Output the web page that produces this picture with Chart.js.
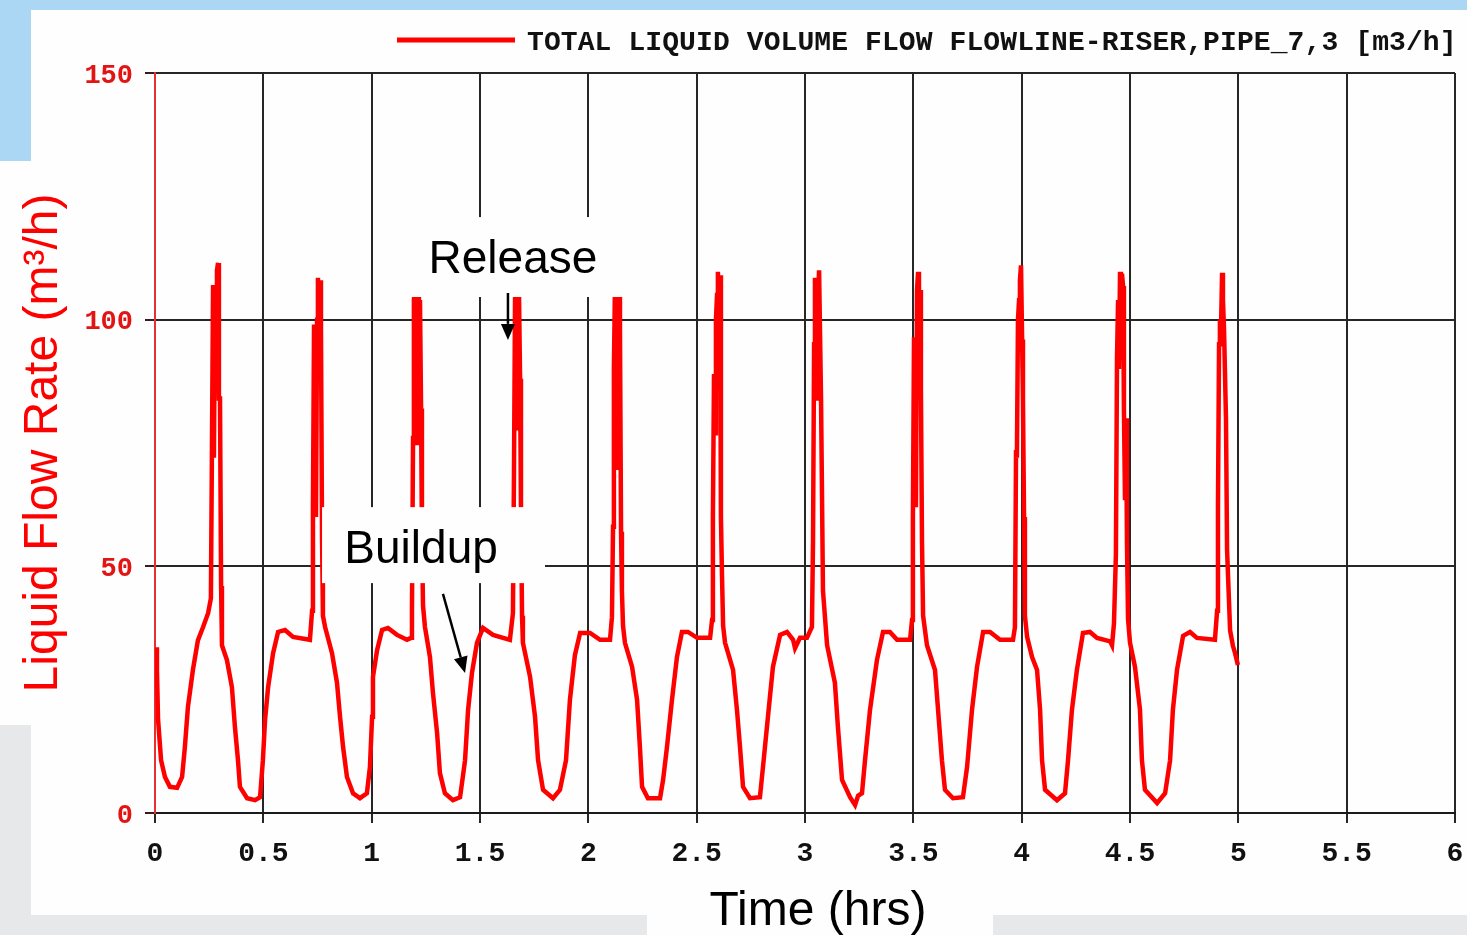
<!DOCTYPE html>
<html>
<head>
<meta charset="utf-8">
<title>Liquid Flow Rate</title>
<script src="https://cdn.jsdelivr.net/npm/chart.js@4.4.1/dist/chart.umd.min.js"></script>
<style>
    html, body { margin: 0; padding: 0; background: #acd7f4; overflow: hidden; }
    canvas { display: block; }
</style>
</head>
<body>
<canvas id="caudal" width="1467" height="935"></canvas>
<script>

// Tiempo (h) y caudal de liquido (m3/h), un renglon por tramo de cada ciclo de slug:
// pico de descarga, vaciado del riser, recuperacion y meseta
const timeHrs = [
    0.005, 0.009, 0.014, 0.028, 0.046, 0.069, 0.102, 0.125, 0.138, 0.152, 0.175, 0.198, 0.222, 0.245, 0.258,
    0.263, 0.268, 0.272, 0.277, 0.282, 0.286, 0.291, 0.295, 0.300, 0.305,
    0.309, 0.332, 0.355, 0.369, 0.383, 0.392, 0.425, 0.462, 0.485,
    0.498, 0.508, 0.522, 0.545, 0.568, 0.600, 0.637, 0.715, 0.725,

    0.729, 0.734, 0.738, 0.743, 0.748, 0.752, 0.757, 0.762, 0.766, 0.771, 0.775,
    0.785, 0.817, 0.840, 0.854, 0.868, 0.886, 0.914, 0.946, 0.978,
    0.992, 1.002, 1.006, 1.025, 1.048, 1.075, 1.117, 1.163, 1.182, 1.186,

    1.191, 1.195, 1.200, 1.205, 1.209, 1.214, 1.218, 1.223, 1.228, 1.232, 1.237,
    1.246, 1.269, 1.283, 1.302, 1.315, 1.338, 1.375, 1.408,
    1.431, 1.445, 1.463, 1.486, 1.514, 1.560, 1.638, 1.652,

    1.657, 1.662, 1.666, 1.671, 1.675, 1.680, 1.685, 1.689, 1.694,
    1.698, 1.731, 1.754, 1.768, 1.791, 1.837, 1.869,
    1.897, 1.915, 1.938, 1.962, 2.008, 2.054, 2.100, 2.109,

    2.114, 2.118, 2.123, 2.128, 2.132, 2.137, 2.142, 2.146, 2.151, 2.155, 2.160,
    2.169, 2.202, 2.225, 2.238, 2.248, 2.275, 2.331,
    2.345, 2.363, 2.386, 2.409, 2.432, 2.460, 2.502, 2.562, 2.571,

    2.575, 2.580, 2.585, 2.589, 2.594, 2.598, 2.603, 2.608, 2.612, 2.617, 2.622,
    2.631, 2.668, 2.686, 2.700, 2.714, 2.746, 2.792,
    2.806, 2.829, 2.852, 2.885, 2.917, 2.945, 2.954, 2.977, 3.009, 3.032,

    3.037, 3.042, 3.046, 3.051, 3.055, 3.060, 3.065, 3.069, 3.074, 3.078, 3.083,
    3.102, 3.138, 3.152, 3.171, 3.208, 3.231, 3.245, 3.263,
    3.277, 3.300, 3.332, 3.360, 3.392, 3.425, 3.485, 3.494,

    3.498, 3.503, 3.508, 3.512, 3.517, 3.522, 3.526, 3.531, 3.535, 3.540, 3.545,
    3.563, 3.600, 3.614, 3.632, 3.646, 3.683, 3.729,
    3.748, 3.771, 3.794, 3.822, 3.854, 3.900, 3.960, 3.969,

    3.974, 3.978, 3.983, 3.988, 3.992, 3.997, 4.002, 4.006, 4.011, 4.015,
    4.025, 4.048, 4.071, 4.085, 4.094, 4.108, 4.163, 4.200,
    4.214, 4.232, 4.255, 4.283, 4.315, 4.348, 4.408, 4.417, 4.426,

    4.435, 4.440, 4.445, 4.449, 4.454, 4.458, 4.463, 4.468, 4.472, 4.477, 4.482, 4.486, 4.491,
    4.500, 4.523, 4.546, 4.555, 4.569, 4.625, 4.662,
    4.685, 4.698, 4.717, 4.745, 4.777, 4.809, 4.892, 4.902,

    4.906, 4.911, 4.915, 4.920, 4.925, 4.929, 4.934, 4.938, 4.943, 4.948,
    4.962, 4.975, 4.985, 4.998,
];

const liquidFlow = [
    33.6, 29, 19, 10.7, 7.3, 5.3, 5.1, 7.3, 13.4, 21.5, 29, 35, 37.7, 40.5, 43.5,
    75, 107, 72, 106, 100, 110, 111.5, 84, 84, 46,
    34, 31, 25.5, 17.4, 10.7, 5.3, 3, 2.6, 3.2,
    10.7, 18.9, 25.5, 32.4, 36.7, 37.1, 35.7, 35.1, 41,

    62, 99, 99, 60, 100, 108.5, 101, 108, 98, 56, 40,
    37.7, 32.4, 26.4, 19.5, 13.4, 7.3, 4, 3, 4,
    9.3, 19.5, 27.6, 33, 37.1, 37.5, 36.1, 35.1, 35.5, 41,

    76, 104, 107, 75, 106, 107.5, 100, 104, 82, 56, 42,
    37.7, 31.6, 24.3, 16.2, 8.1, 4, 2.6, 3.2,
    10.7, 20.9, 28.4, 34.5, 37.5, 36.1, 35.1, 40.5,

    70, 106, 108, 78, 107, 105, 88, 62, 40,
    34.5, 27.6, 19.5, 10.7, 4.7, 3, 4.7,
    10.7, 22.9, 32, 36.5, 36.5, 35.1, 35.1, 39.7,

    58, 90, 107, 70, 106, 104, 107, 98, 57, 45, 38,
    34.5, 29.6, 22.9, 13.4, 5.3, 3, 3,
    6.7, 13.4, 22.9, 31.6, 36.7, 36.7, 35.5, 35.5, 39.1,

    60, 89, 77, 100, 105, 109.7, 96, 109, 60, 48, 38,
    34.5, 29, 20.9, 13.4, 5.3, 3, 3.2,
    9.3, 19.5, 29.6, 36.1, 36.7, 35.1, 33.4, 35.5, 35.5, 37.7,

    55, 95, 108.5, 84, 108, 104, 110, 110, 84, 84, 45,
    34, 26.4, 17.4, 6.7, 3.2, 1.6, 3.5, 4,
    10.7, 20.9, 31, 36.7, 36.7, 35.1, 35.1, 39.1,

    59.4, 96, 96, 62, 106, 109.7, 104, 106, 86, 55, 40,
    34, 29, 21, 10.7, 4.7, 3, 3.2,
    9.3, 21, 29.6, 36.7, 36.7, 35.1, 35.1, 37.7,

    73.6, 72, 100, 104, 108, 111, 96, 83.7, 60, 40,
    35.7, 31.6, 29, 20.9, 10.7, 4.7, 2.6, 4,
    10.7, 20.9, 29, 36.5, 36.7, 35.5, 34.8, 34, 38.4,

    52.5, 92, 104, 90, 109.7, 100, 109.3, 106.8, 81.7, 63.4, 80, 55, 39.3,
    34.5, 29.6, 21, 10.7, 4.7, 2, 4,
    10.7, 20.9, 29, 35.9, 36.7, 35.5, 35.1, 41,

    61.8, 95, 100, 98, 109.5, 104, 98, 98, 80, 53.3,
    37, 33.9, 32.4, 30,
];

const serieLabel = "TOTAL LIQUID VOLUME FLOW FLOWLINE-RISER,PIPE_7,3 [m3/h]";
const tituloY = "Liquid Flow Rate (m\u00B3/h)";
const tituloX = "Time (hrs)";

// Notas sobre el grafico (en unidades de los ejes)
const notas = [
    { texto: "Release", caja: [1.145, 2.192, 120.8, 104.6], base: [1.652, 109.5], flecha: [1.629, 105.4, 1.629, 95.9] },
    { texto: "Buildup", caja: [0.771, 1.800, 62.0, 46.6], base: [1.228, 50.7], flecha: [1.329, 44.4, 1.431, 28.4] },
];

const ROJO = "#ff0000";
const fuenteMono = "'Liberation Mono', 'DejaVu Sans Mono', monospace";
const fuenteSans = "'Liberation Sans', Arial, sans-serif";

// Fondo de la diapositiva: franjas celeste y gris, panel blanco
const fondoSlide = {
    id: "fondoSlide",
    beforeDraw(chart) {
        const ctx = chart.ctx;
        ctx.save();
        ctx.fillStyle = "#acd7f4";
        ctx.fillRect(0, 0, chart.width, chart.height);
        ctx.fillStyle = "#e6e8e9";
        ctx.fillRect(0, 725, chart.width, chart.height - 725);
        ctx.fillStyle = "#fefefe";
        ctx.fillRect(31, 10, chart.width - 31, 905);
        ctx.fillRect(0, 161, 76, 564);
        ctx.fillRect(647, 870, 346, 65);
        ctx.restore();
    },
};

function dibujarFlecha(ctx, x1, y1, x2, y2) {
    const ang = Math.atan2(y2 - y1, x2 - x1);
    const largo = 16, ancho = 7;
    const c = Math.cos(ang), s = Math.sin(ang);
    ctx.beginPath();
    ctx.moveTo(x1, y1);
    ctx.lineTo(x2 - largo * c, y2 - largo * s);
    ctx.lineWidth = 2.5;
    ctx.stroke();
    ctx.beginPath();
    ctx.moveTo(x2, y2);
    ctx.lineTo(x2 - largo * c + ancho * s, y2 - largo * s - ancho * c);
    ctx.lineTo(x2 - largo * c - ancho * s, y2 - largo * s + ancho * c);
    ctx.closePath();
    ctx.fill();
}

// Leyenda, titulos de ejes y notas con flecha
const textos = {
    id: "textos",
    afterDraw(chart) {
        const ctx = chart.ctx;
        const sx = chart.scales.x, sy = chart.scales.y;
        ctx.save();

        // leyenda
        ctx.strokeStyle = ROJO;
        ctx.lineWidth = 5;
        ctx.beginPath();
        ctx.moveTo(397, 40);
        ctx.lineTo(515, 40);
        ctx.stroke();
        ctx.fillStyle = "#111";
        ctx.font = "bold 28px " + fuenteMono;
        ctx.textAlign = "left";
        ctx.textBaseline = "alphabetic";
        ctx.letterSpacing = "0.1px";
        ctx.fillText(serieLabel, 527, 50);
        ctx.letterSpacing = "0px";

        // titulo eje y
        ctx.save();
        ctx.translate(57, 443);
        ctx.rotate(-Math.PI / 2);
        ctx.fillStyle = ROJO;
        ctx.font = "48px " + fuenteSans;
        ctx.textAlign = "center";
        ctx.fillText(tituloY, 0, 0);
        ctx.restore();

        // titulo eje x
        ctx.fillStyle = "#000";
        ctx.font = "48px " + fuenteSans;
        ctx.textAlign = "center";
        ctx.fillText(tituloX, 818, 925);

        // notas
        notas.forEach((n) => {
            const [t0, t1, v0, v1] = n.caja;
            const x0 = sx.getPixelForValue(t0), x1 = sx.getPixelForValue(t1);
            const y0 = sy.getPixelForValue(v0), y1 = sy.getPixelForValue(v1);
            ctx.fillStyle = "#fefefe";
            ctx.fillRect(x0, y0, x1 - x0, y1 - y0);
            ctx.fillStyle = "#000";
            ctx.font = "46px " + fuenteSans;
            ctx.textAlign = "center";
            ctx.fillText(n.texto, sx.getPixelForValue(n.base[0]), sy.getPixelForValue(n.base[1]));
            ctx.strokeStyle = "#000";
            dibujarFlecha(ctx,
                sx.getPixelForValue(n.flecha[0]), sy.getPixelForValue(n.flecha[1]),
                sx.getPixelForValue(n.flecha[2]), sy.getPixelForValue(n.flecha[3]));
        });

        ctx.restore();
    },
};

const ctxCaudal = document.getElementById("caudal").getContext("2d");

const puntos = timeHrs.map((t, i) => ({ x: t, y: liquidFlow[i] }));

const data = {
    datasets: [
        {
            label: serieLabel,
            data: puntos,
            borderColor: ROJO,
            backgroundColor: ROJO,
            borderWidth: 4.5,
            pointRadius: 0,
            tension: 0,
        },
    ],
};

const options = {
    responsive: false,
    animation: false,
    devicePixelRatio: 1,
    layout: {
        padding: { left: 0, top: 73, right: 12, bottom: 0 },
    },
    plugins: {
        legend: { display: false },
        tooltip: { enabled: false },
    },
    scales: {
        x: {
            type: "linear",
            min: 0,
            max: 6,
            afterFit: (scale) => {
                scale.height = 122;
                scale.paddingRight = 0; // el "6" cabe en el margen derecho
            },
            border: { color: "#1a1a1a", width: 2 },
            grid: {
                color: (c) => (c.tick && c.tick.value === 0 ? "rgba(0,0,0,0)" : "#262626"),
                tickColor: "#262626",
                lineWidth: 2,
                tickLength: 10,
            },
            ticks: {
                stepSize: 0.5,
                autoSkip: false,
                maxRotation: 0,
                padding: 14,
                color: "#111",
                font: { family: fuenteMono, size: 28, weight: "bold" },
                callback: (v) => (Number.isInteger(v) ? String(v) : v.toFixed(1)),
            },
        },
        y: {
            min: 0,
            max: 150,
            afterFit: (scale) => { scale.width = 155; },
            border: { color: "#e83030", width: 2 },
            grid: {
                color: "#262626",
                tickColor: "#3a1a1a",
                lineWidth: 2,
                tickLength: 10,
            },
            ticks: {
                stepSize: 50,
                padding: 12,
                labelOffset: 3,
                color: "#e21414",
                font: { family: fuenteMono, size: 27, weight: "bold" },
            },
        },
    },
};

const graficoCaudal = new Chart(ctxCaudal, {
    type: "line",
    data: data,
    options: options,
    plugins: [fondoSlide, textos],
});

</script>
</body>
</html>
